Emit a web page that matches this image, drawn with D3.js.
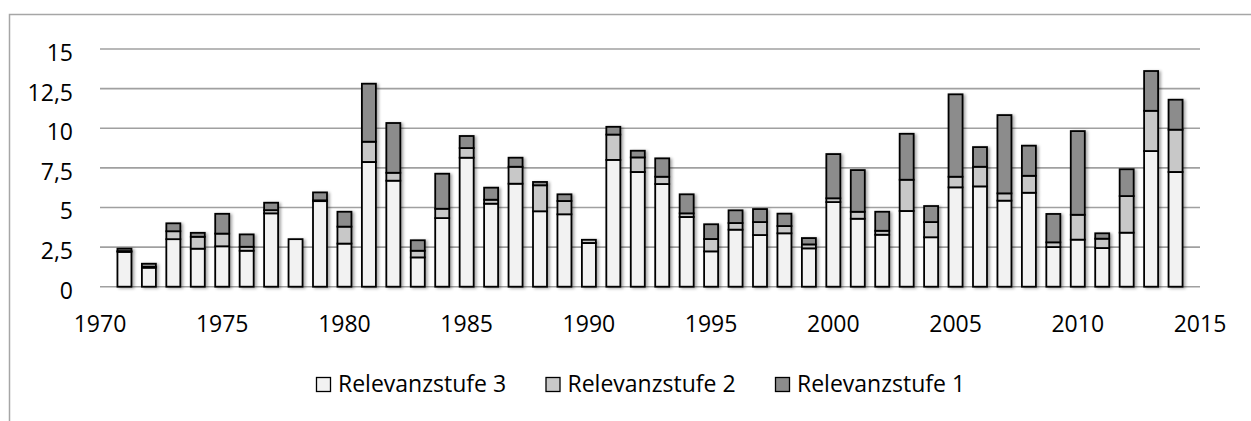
<!DOCTYPE html>
<html>
<head>
<meta charset="utf-8">
<script src="https://cdn.jsdelivr.net/npm/d3@7"></script>
<style>
  html, body { margin: 0; padding: 0; background: #fff; }
  svg { display: block; }
</style>
</head>
<body>
<div id="chart"></div>
<script>
const years = d3.range(1971, 2015);

// Relevanzstufe 3 (bottom, light)
const stufe3 = [2.2, 1.2, 3.0, 2.4, 2.55, 2.27, 4.63, 3.0, 5.4, 2.72,
  7.87, 6.69, 1.85, 4.33, 8.14, 5.24, 6.5, 4.76, 4.57, 2.76,
  8.0, 7.24, 6.48, 4.4, 2.23, 3.6, 3.26, 3.37, 2.42, 5.34,
  4.29, 3.28, 4.78, 3.12, 6.27, 6.33, 5.43, 5.93, 2.5, 2.97,
  2.44, 3.41, 8.56, 7.24];

// Relevanzstufe 2 (middle)
const stufe2 = [0.05, 0.05, 0.5, 0.75, 0.8, 0.25, 0.2, 0, 0.05, 1.07,
  1.28, 0.5, 0.42, 0.59, 0.61, 0.25, 1.07, 1.64, 0.84, 0.2,
  1.6, 0.92, 0.46, 0.23, 0.78, 0.42, 0.82, 0.46, 0.25, 0.24,
  0.44, 0.25, 1.97, 0.96, 0.67, 1.24, 0.46, 1.07, 0.3, 1.57,
  0.59, 2.31, 2.54, 2.67];

// Relevanzstufe 1 (top, dark)
const stufe1 = [0.15, 0.2, 0.5, 0.25, 1.25, 0.78, 0.47, 0, 0.5, 0.94,
  3.66, 3.14, 0.66, 2.21, 0.76, 0.76, 0.57, 0.21, 0.42, 0,
  0.49, 0.42, 1.16, 1.2, 0.93, 0.8, 0.82, 0.78, 0.4, 2.79,
  2.63, 1.2, 2.9, 1.01, 5.2, 1.24, 4.94, 1.9, 1.79, 5.28,
  0.34, 1.69, 2.51, 1.89];

const seriesNames = ["Relevanzstufe 3", "Relevanzstufe 2", "Relevanzstufe 1"];
const seriesColors = ["#f2f2f2", "#c8c8c8", "#8c8c8c"];
const yTicks = [0, 2.5, 5, 7.5, 10, 12.5, 15];
const xTicks = [1970, 1975, 1980, 1985, 1990, 1995, 2000, 2005, 2010, 2015];

const W = 1251, H = 421;
const font = "'Open Sans', sans-serif";

const rows = years.map((y, i) => ({
  year: y,
  "Relevanzstufe 3": stufe3[i],
  "Relevanzstufe 2": stufe2[i],
  "Relevanzstufe 1": stufe1[i]
}));

const svg = d3.select("#chart").append("svg")
  .attr("width", W)
  .attr("height", H)
  .style("font-family", font);

const defs = svg.append("defs");
defs.append("filter")
  .attr("id", "shadow")
  .attr("x", "-50%").attr("y", "-10%")
  .attr("width", "200%").attr("height", "120%")
  .append("feDropShadow")
  .attr("dx", 2).attr("dy", 1)
  .attr("stdDeviation", 1.4)
  .attr("flood-color", "#000")
  .attr("flood-opacity", 0.35);

// outer frame (only left and top edges visible)
svg.append("path")
  .attr("d", `M9.5,${H + 5} V14.5 H${W + 5}`)
  .attr("fill", "none")
  .attr("stroke", "#a6a6a6")
  .attr("stroke-width", 1.5);

const x = d3.scaleLinear().domain([1970, 2015]).range([100, 1200]);
const y = d3.scaleLinear().domain([0, 15]).range([286.7, 49]);

// gridlines
svg.append("g")
  .selectAll("line")
  .data(yTicks)
  .join("line")
  .attr("x1", x(1970))
  .attr("x2", x(2015))
  .attr("y1", d => y(d))
  .attr("y2", d => y(d))
  .attr("stroke", "#a0a0a0")
  .attr("stroke-width", 1.6);

// y labels
svg.append("g")
  .selectAll("text")
  .data(yTicks)
  .join("text")
  .attr("x", 73)
  .attr("y", d => y(d) + 12)
  .attr("text-anchor", "end")
  .style("font-size", "23px")
  .style("fill", "#000")
  .text(d => String(d).replace(".", ","));

// x labels
svg.append("g")
  .selectAll("text")
  .data(xTicks)
  .join("text")
  .attr("x", d => x(d))
  .attr("y", 332)
  .attr("text-anchor", "middle")
  .style("font-size", "23px")
  .style("fill", "#000")
  .text(d => d);

// stacked bars
const stack = d3.stack().keys(seriesNames);
const stacked = stack(rows);
const barW = 14;

const barsG = svg.append("g").attr("filter", "url(#shadow)");
stacked.forEach((layer, li) => {
  barsG.append("g")
    .selectAll("rect")
    .data(layer.filter(d => d[1] - d[0] > 0))
    .join("rect")
    .attr("x", d => x(d.data.year) - barW / 2)
    .attr("y", d => y(d[1]))
    .attr("width", barW)
    .attr("height", d => y(d[0]) - y(d[1]))
    .attr("fill", seriesColors[li])
    .attr("stroke", "#000")
    .attr("stroke-width", 1.8);
});

// legend
const legend = svg.append("g");
const legendX = [316, 545.5, 775];
seriesNames.forEach((name, i) => {
  const g = legend.append("g").attr("transform", `translate(${legendX[i]},0)`);
  g.append("rect")
    .attr("x", 0.5)
    .attr("y", 377.5)
    .attr("width", 14)
    .attr("height", 14)
    .attr("fill", seriesColors[i])
    .attr("stroke", "#000")
    .attr("stroke-width", 1.3);
  g.append("text")
    .attr("x", 22)
    .attr("y", 392)
    .style("font-size", "23px")
    .style("fill", "#000")
    .text(name);
});
</script>
</body>
</html>
